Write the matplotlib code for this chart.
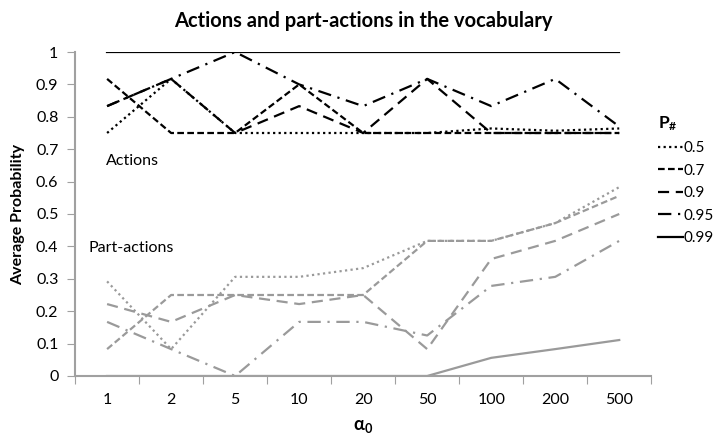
import matplotlib
matplotlib.use("Agg")
import matplotlib.pyplot as plt
import numpy as np

plt.rcParams['font.family'] = ['Lato', 'DejaVu Sans']
plt.rcParams['mathtext.default'] = 'regular'

# x categories (alpha_0)
alphas = ["1", "2", "5", "10", "20", "50", "100", "200", "500"]
p_labels = ["0.5", "0.7", "0.9", "0.95", "0.99"]

# actions (black lines), one list per P#
act_05 = [0.75, 0.917, 0.75, 0.75, 0.75, 0.75, 0.764, 0.757, 0.764]
act_07 = [0.917, 0.75, 0.75, 0.9, 0.75, 0.75, 0.75, 0.75, 0.75]
act_09 = [0.833, 0.917, 0.75, 0.833, 0.75, 0.917, 0.75, 0.75, 0.75]
act_095 = [0.833, 0.917, 1.0, 0.9, 0.833, 0.917, 0.833, 0.917, 0.77]
act_099 = [1.0, 1.0, 1.0, 1.0, 1.0, 1.0, 1.0, 1.0, 1.0]

# part-actions (grey lines)
part_05 = [0.292, 0.083, 0.306, 0.306, 0.333, 0.417, 0.417, 0.472, 0.583]
part_07 = [0.083, 0.25, 0.25, 0.25, 0.25, 0.417, 0.417, 0.472, 0.556]
part_09 = [0.222, 0.167, 0.25, 0.222, 0.25, 0.083, 0.361, 0.417, 0.5]
part_095 = [0.167, 0.083, 0.0, 0.167, 0.167, 0.125, 0.278, 0.306, 0.417]
part_099 = [0.0, 0.0, 0.0, 0.0, 0.0, 0.0, 0.056, 0.083, 0.111]

styles = [(0, (1, 1.5)), (0, (3, 1.5)), (0, (5, 3)), (0, (6, 3, 1, 3)), '-']
gray = '#9a9a9a'

fig = plt.figure(figsize=(7.22, 4.37), dpi=100)
ax = fig.add_axes([0.104, 0.1396, 0.798, 0.7414])

x = np.arange(len(alphas))
act = [act_05, act_07, act_09, act_095, act_099]
part = [part_05, part_07, part_09, part_095, part_099]

for i in range(len(p_labels)):
    ax.plot(x, part[i], color=gray, linestyle=styles[i], linewidth=1.6)
handles = []
for i in range(len(p_labels)):
    h, = ax.plot(x, act[i], color='black', linestyle=styles[i], linewidth=1.6, label=p_labels[i])
    handles.append(h)

ax.set_xlim(-0.5, 8.5)
ax.set_ylim(0, 1)
ax.set_xticks(np.arange(-0.5, 9, 1))
ax.set_xticklabels([])
ax.set_xticks(x, minor=True)
ax.set_xticklabels(alphas, minor=True)
ax.tick_params(axis='x', which='minor', length=0, pad=12, labelsize=11.5)
ax.tick_params(axis='x', which='major', length=6, color='#a0a0a0', direction='out')
ax.set_yticks(np.arange(0, 1.01, 0.1))
ax.set_yticklabels(["0", "0.1", "0.2", "0.3", "0.4", "0.5", "0.6", "0.7", "0.8", "0.9", "1"])
ax.tick_params(axis='y', length=6, color='#a0a0a0', labelsize=11.5, pad=6)

for s in ['top', 'right']:
    ax.spines[s].set_visible(False)
for s in ['left', 'bottom']:
    ax.spines[s].set_color('#a0a0a0')
    ax.spines[s].set_linewidth(1.5)

ax.text(-0.02, 0.664, "Actions", fontsize=11.5, va='center', ha='left')
ax.text(-0.29, 0.395, "Part-actions", fontsize=11.5, va='center', ha='left')

ax.set_title("Actions and part-actions in the vocabulary", fontsize=14.5, fontweight='bold', pad=18)
ax.set_ylabel("Average Probability", fontsize=11.5, fontweight='bold', labelpad=8)
ax.set_xlabel(r"$\alpha_0$", fontsize=13, fontweight='bold', labelpad=8)

leg = fig.legend(handles=handles, loc='upper left', bbox_to_anchor=(0.893, 0.77),
                 frameon=False, handlelength=1.6, handletextpad=0.05,
                 labelspacing=0.55, fontsize=11, title=r"P$_\#$",
                 title_fontproperties={'weight': 'bold', 'size': 12.5})
leg._legend_box.align = "left"

fig.savefig("out.png", dpi=100)
